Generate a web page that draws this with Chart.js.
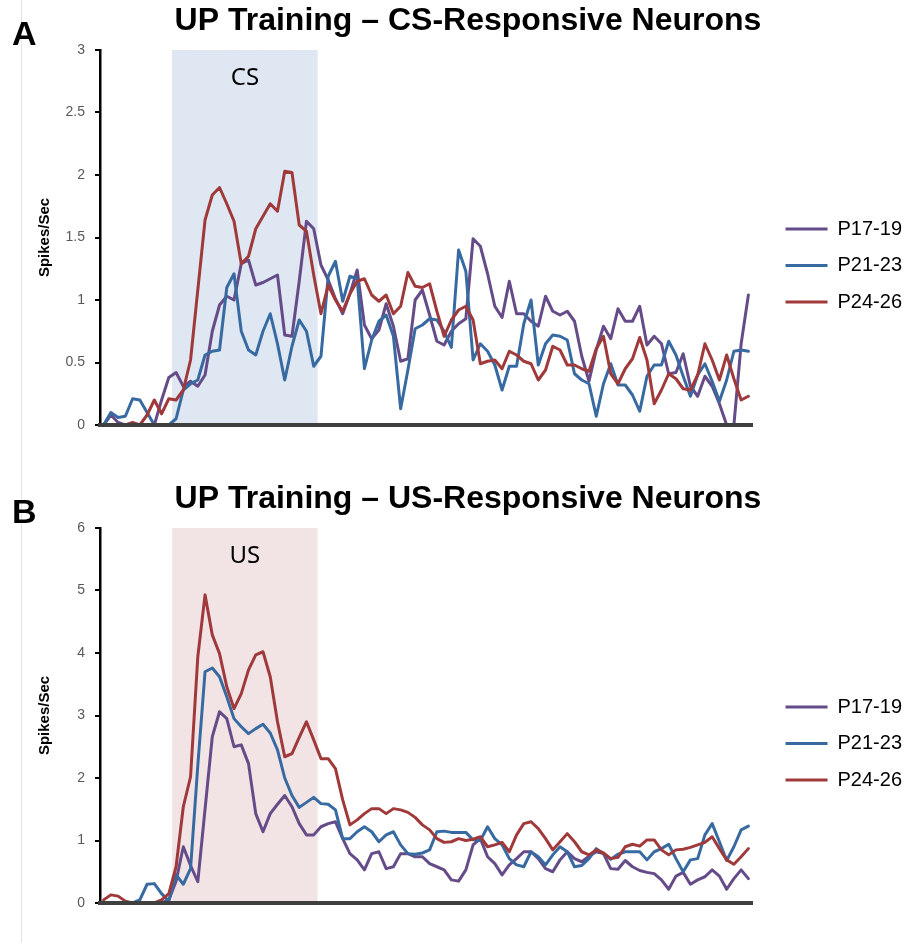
<!DOCTYPE html>
<html>
<head>
<meta charset="utf-8">
<script src="https://cdn.jsdelivr.net/npm/chart.js@4.4.1/dist/chart.umd.min.js"></script>
<style>
  html, body { margin: 0; padding: 0; background: #fff; overflow: hidden; }
  #page  { position: relative; width: 905px; height: 943px; overflow: hidden; }
  #rule  { position: absolute; left: 21px; top: 0; width: 1px; height: 943px; background: #e4e4e4; }
  canvas { position: absolute; left: 0; }
</style>
</head>
<body>
<div id="page">
  <div id="rule"></div>
  <canvas id="chartCS" width="912" height="478" style="top:0"></canvas>
  <canvas id="chartUS" width="912" height="465" style="top:478px"></canvas>
</div>
<script>
// ── Data (spikes/sec per time bin, 90 bins) ──────────────────────
const seriesNames = ['P17-19', 'P21-23', 'P24-26'];
const stimBins    = [10, 29];          // first / last bin of the CS / US window

// A — CS-responsive neurons
const csP1719 = [0, 0.08, 0.02, 0, 0, 0, 0, 0, 0.2, 0.38, 0.42, 0.31, 0.35, 0.31, 0.4, 0.75, 0.96, 1.03, 1.0, 1.29,
  1.32, 1.12, 1.14, 1.17, 1.2, 0.72, 0.71, 1.15, 1.63, 1.57, 1.28, 1.16, 1.01, 0.89, 1.05, 1.24, 0.8, 0.69, 0.76, 0.97,
  0.79, 0.51, 0.53, 1.0, 1.08, 0.88, 0.67, 0.64, 0.75, 0.81, 0.85, 1.49, 1.43, 1.21, 0.95, 0.86, 1.15, 0.89, 0.89, 0.83,
  0.79, 1.03, 0.91, 0.88, 0.91, 0.83, 0.55, 0.35, 0.6, 0.79, 0.69, 0.93, 0.83, 0.83, 0.95, 0.64, 0.71, 0.65, 0.41, 0.42,
  0.57, 0.31, 0.23, 0.39, 0.31, 0.17, 0, 0, 0.65, 1.04];
const csP2123 = [0, 0.1, 0.06, 0.07, 0.21, 0.2, 0.1, 0, 0, 0, 0.05, 0.28, 0.33, 0.36, 0.56, 0.59, 0.6, 1.1, 1.21, 0.75,
  0.6, 0.56, 0.75, 0.89, 0.65, 0.36, 0.63, 0.84, 0.75, 0.47, 0.55, 1.19, 1.31, 0.99, 1.19, 1.17, 0.45, 0.68, 0.83, 0.88,
  0.71, 0.13, 0.44, 0.77, 0.8, 0.85, 0.84, 0.75, 0.62, 1.4, 1.23, 0.52, 0.65, 0.59, 0.48, 0.28, 0.47, 0.47, 0.81, 1.0,
  0.48, 0.65, 0.72, 0.71, 0.68, 0.41, 0.36, 0.33, 0.07, 0.33, 0.49, 0.32, 0.32, 0.24, 0.11, 0.39, 0.48, 0.48, 0.67, 0.56,
  0.39, 0.23, 0.4, 0.49, 0.35, 0.19, 0.36, 0.59, 0.6, 0.59];
const csP2426 = [0, 0, 0, 0, 0.02, 0, 0.08, 0.2, 0.09, 0.21, 0.2, 0.28, 0.52, 1.08, 1.64, 1.84, 1.9, 1.77, 1.63, 1.29,
  1.35, 1.57, 1.67, 1.77, 1.71, 2.03, 2.02, 1.6, 1.55, 1.2, 0.89, 1.12, 1.0, 0.91, 1.05, 1.15, 1.17, 1.04, 0.99, 1.04,
  0.89, 0.95, 1.22, 1.11, 1.1, 1.13, 0.91, 0.71, 0.84, 0.92, 0.95, 0.84, 0.49, 0.51, 0.52, 0.45, 0.59, 0.56, 0.51, 0.49,
  0.36, 0.44, 0.63, 0.6, 0.48, 0.48, 0.45, 0.43, 0.61, 0.71, 0.41, 0.33, 0.45, 0.53, 0.7, 0.52, 0.17, 0.28, 0.41, 0.37,
  0.29, 0.28, 0.4, 0.65, 0.52, 0.36, 0.56, 0.37, 0.2, 0.23];

// B — US-responsive neurons
const usP1719 = [0, 0, 0, 0, 0, 0, 0, 0, 0, 0.05, 0.35, 0.9, 0.6, 0.34, 1.5, 2.66, 3.06, 2.95, 2.5, 2.53,
  2.23, 1.43, 1.14, 1.43, 1.58, 1.72, 1.54, 1.27, 1.09, 1.09, 1.22, 1.27, 1.3, 1.03, 0.79, 0.69, 0.53, 0.79, 0.82, 0.55,
  0.58, 0.79, 0.79, 0.74, 0.74, 0.63, 0.58, 0.53, 0.37, 0.35, 0.53, 0.93, 1.03, 0.74, 0.63, 0.45, 0.61, 0.71, 0.82, 0.82,
  0.71, 0.55, 0.5, 0.69, 0.82, 0.71, 0.66, 0.75, 0.82, 0.79, 0.55, 0.54, 0.68, 0.58, 0.52, 0.49, 0.47, 0.37, 0.22, 0.43,
  0.49, 0.3, 0.37, 0.42, 0.53, 0.43, 0.22, 0.39, 0.53, 0.39];
const usP2123 = [0, 0, 0, 0, 0, 0.05, 0.3, 0.31, 0.15, 0.03, 0.45, 0.3, 0.55, 2.2, 3.7, 3.76, 3.62, 3.3, 2.95, 2.82,
  2.71, 2.79, 2.86, 2.72, 2.45, 2.0, 1.72, 1.53, 1.61, 1.69, 1.59, 1.58, 1.49, 1.03, 1.03, 1.14, 1.22, 1.14, 0.98, 1.09,
  1.14, 0.93, 0.79, 0.78, 0.8, 0.85, 1.14, 1.15, 1.13, 1.13, 1.13, 1.01, 1.0, 1.22, 1.03, 0.93, 0.71, 0.61, 0.58, 0.82,
  0.74, 0.61, 0.77, 0.9, 0.82, 0.58, 0.6, 0.71, 0.87, 0.79, 0.7, 0.78, 0.82, 0.82, 0.82, 0.69, 0.82, 0.87, 0.94, 0.71,
  0.5, 0.69, 0.71, 1.09, 1.27, 0.98, 0.68, 0.9, 1.17, 1.23];
const usP2426 = [0.05, 0.13, 0.11, 0.03, 0, 0, 0, 0, 0.05, 0.15, 0.58, 1.54, 2.02, 3.94, 4.93, 4.29, 3.99, 3.46, 3.11, 3.35,
  3.73, 3.97, 4.02, 3.62, 2.9, 2.34, 2.39, 2.65, 2.9, 2.61, 2.31, 2.31, 2.15, 1.65, 1.25, 1.33, 1.43, 1.51, 1.51, 1.43,
  1.51, 1.49, 1.45, 1.37, 1.25, 1.17, 1.03, 0.97, 0.98, 1.03, 1.0, 1.02, 1.06, 0.9, 0.93, 0.97, 0.82, 1.09, 1.27, 1.3,
  1.19, 1.03, 0.85, 0.98, 1.11, 0.98, 0.82, 0.77, 0.85, 0.8, 0.71, 0.73, 0.9, 0.94, 0.91, 1.01, 1.01, 0.85, 0.77, 0.85,
  0.86, 0.89, 0.93, 0.97, 1.06, 0.87, 0.69, 0.62, 0.74, 0.87];

// category labels = bin numbers (axis labels are hidden in the figure)
const binLabels = csP1719.map(function (_, i) { return String(i + 1); });

// ── Style ─────────────────────────────────────────────────────────
const FONT   = '"Liberation Sans", Arial, sans-serif';
const COLORS = ['#654B88', '#386AA2', '#A0393A'];

// ── Letter "A"/"B" + stimulus label centred over the shaded bins ─
const panelText = {
  id: 'panelText',
  afterDraw: function (chart, args, opts) {
    const ctx = chart.ctx, area = chart.chartArea, x = chart.scales.x;
    ctx.save();
    ctx.fillStyle = '#000';
    ctx.font = 'bold 34px ' + FONT;
    ctx.textAlign = 'left';
    ctx.textBaseline = 'alphabetic';
    ctx.fillText(opts.letter, 12, 45);

    const half = (x.getPixelForValue(1) - x.getPixelForValue(0)) / 2;
    const x0 = x.getPixelForValue(stimBins[0]) - half;
    const x1 = x.getPixelForValue(stimBins[1]) + half;
    ctx.font = '24px "Noto Sans", sans-serif';
    ctx.textAlign = 'center';
    ctx.textBaseline = 'middle';
    ctx.fillText(opts.stim, (x0 + x1) / 2, area.top + 28);
    ctx.restore();
  }
};

function buildPanel(canvasId, cfg) {
  const shade = binLabels.map(function (_, i) {
    return (i >= stimBins[0] && i <= stimBins[1]) ? cfg.yMax : null;
  });

  const datasets = cfg.series.map(function (values, k) {
    return {
      type: 'line',
      label: seriesNames[k],
      data: values,
      borderColor: COLORS[k],
      backgroundColor: COLORS[k],
      borderWidth: 3,
      borderJoinStyle: 'round',
      borderCapStyle: 'round',
      pointRadius: 0,
      tension: 0,
      fill: false,
      order: 3 - k
    };
  });
  datasets.push({
    type: 'bar',
    label: cfg.stim,
    data: shade,
    backgroundColor: cfg.shadeColor,
    borderWidth: 0,
    barPercentage: 1,
    categoryPercentage: 1,
    order: 10
  });

  return new Chart(document.getElementById(canvasId), {
    type: 'line',
    data: { labels: binLabels, datasets: datasets },
    plugins: [panelText],
    options: {
      responsive: false,
      devicePixelRatio: 1,
      animation: false,
      events: [],
      // left padding moves the centred title right; the y axis width makes up for it
      layout: { padding: { top: 0, left: 24, right: 0, bottom: cfg.bottomPad } },
      plugins: {
        panelText: { letter: cfg.letter, stim: cfg.stim },
        tooltip: { enabled: false },
        title: {
          display: true,
          text: cfg.title,
          color: '#000',
          font: { family: FONT, size: 32, weight: 'bold' },
          padding: { top: 2, bottom: 9.6 }
        },
        legend: {
          position: 'right',
          align: 'center',
          // empty title only pushes the entries down to where the figure has them
          title: { display: true, text: '', padding: { top: 91.6, bottom: 0 } },
          labels: {
            boxWidth: 42,
            boxHeight: 3,
            padding: 16.5,
            color: '#000',
            font: { family: FONT, size: 20 },
            sort: function (a, b) { return a.datasetIndex - b.datasetIndex; },
            filter: function (item) { return item.datasetIndex < seriesNames.length; },
            generateLabels: function (chart) {
              return Chart.defaults.plugins.legend.labels.generateLabels(chart).map(function (it) {
                it.fillStyle = it.strokeStyle;
                it.lineWidth = 0;
                return it;
              });
            }
          }
        }
      },
      scales: {
        x: {
          type: 'category',
          offset: true,
          grid: { display: false, drawTicks: false },
          ticks: { display: false },
          border: { display: true, color: '#3f3f3f', width: 4, z: 1 },
          afterFit: function (s) { s.height = 0; }
        },
        y: {
          min: 0,
          max: cfg.yMax,
          ticks: {
            stepSize: cfg.step,
            color: '#595959',
            padding: 10,
            font: { family: FONT, size: 14 },
            callback: function (v) { return String(Math.round(v * 100) / 100); }
          },
          grid: { display: true, drawOnChartArea: false, drawTicks: true, tickLength: 5, color: '#000', lineWidth: 2 },
          border: { display: true, color: '#000', width: 2.5 },
          title: {
            display: true,
            text: 'Spikes/Sec',
            color: '#000',
            font: { family: FONT, size: 15, weight: 'bold' },
            padding: { top: 12, bottom: 0 }
          },
          afterFit: function (s) { s.width = 76; }
        },
        // spacer between the plot and the legend
        gap: {
          type: 'linear',
          position: 'right',
          display: true,
          grid: { display: false },
          border: { display: false },
          ticks: { display: false },
          afterFit: function (s) { s.width = 17; }
        }
      }
    }
  });
}

buildPanel('chartCS', {
  letter: 'A', stim: 'CS', title: 'UP Training \u2013 CS-Responsive Neurons',
  series: [csP1719, csP2123, csP2426],
  yMax: 3, step: 0.5, shadeColor: '#DFE7F2',
  bottomPad: 53
});

buildPanel('chartUS', {
  letter: 'B', stim: 'US', title: 'UP Training \u2013 US-Responsive Neurons',
  series: [usP1719, usP2123, usP2426],
  yMax: 6, step: 1, shadeColor: '#F2E4E5',
  bottomPad: 40
});
</script>
</body>
</html>
